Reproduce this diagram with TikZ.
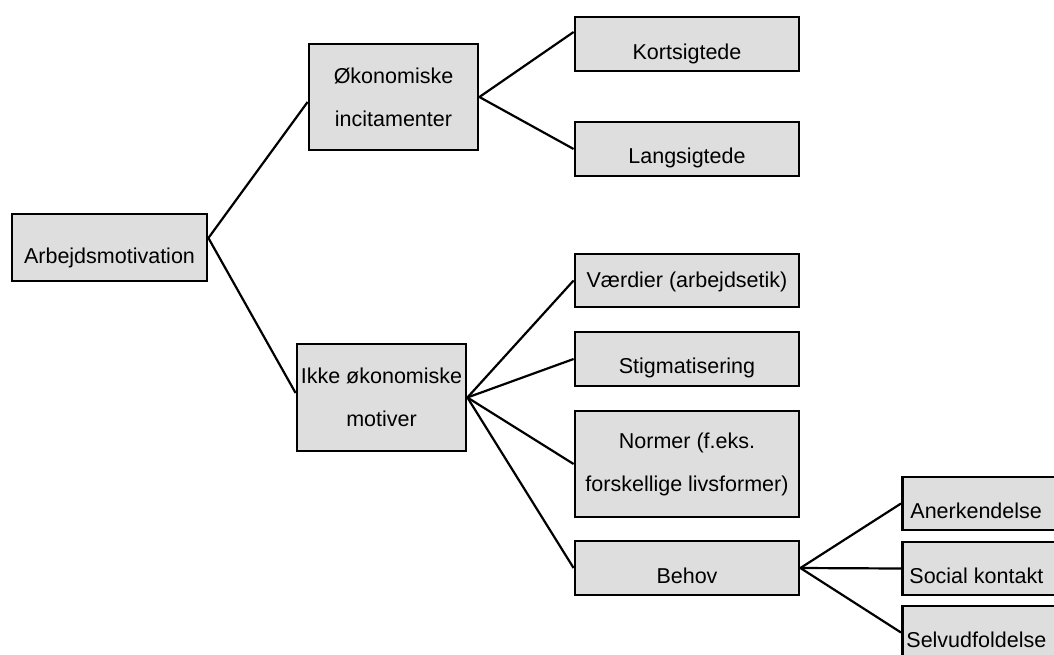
\documentclass[tikz,border=0pt]{standalone}
\usepackage{fontspec}
\setmainfont{Liberation Sans}
\definecolor{boxgray}{RGB}{222,222,222}
\begin{document}
\begin{tikzpicture}[x=1pt,y=-1pt,
  box/.style={draw=black, line width=2.8pt, fill=boxgray, inner sep=0pt,
    font=\fontsize{21.5}{43}\selectfont},
  oneline/.style={text depth=0pt, text height=#1},
  twoline/.style={align=center},
  wide/.style={minimum width=224pt},
  link/.style={line width=2.2pt}]
\path[use as bounding box, clip] (0,0) rectangle (1054,654);

% level 0
\node[box, minimum width=195pt, minimum height=67pt, oneline=31pt] (arb) at (109.5,247.5) {Arbejdsmotivation};

% level 1
\node[box, twoline, minimum width=169pt, minimum height=106pt] (oko) at (393.5,97) {Økonomiske\\incitamenter};
\node[box, twoline, minimum width=169pt, minimum height=107pt] (ikke) at (381.5,397.5) {Ikke økonomiske\\motiver};

% level 2
\node[box, wide, minimum height=54pt, oneline=30pt] (kort) at (687,44) {Kortsigtede};
\node[box, wide, minimum height=54pt, oneline=29pt] (lang) at (687,149) {Langsigtede};
\node[box, wide, minimum height=53pt, oneline=14pt] (vaer) at (687,280.5) {Værdier (arbejdsetik)};
\node[box, wide, minimum height=54pt, oneline=28pt] (stig) at (687,359) {Stigmatisering};
\node[box, wide, twoline, minimum height=106pt] (norm) at (687,464) {Normer (f.eks.\\forskellige livsformer)};
\node[box, wide, minimum height=54pt, oneline=30pt] (behov) at (687,568) {Behov};

% level 3
\node[box, anchor=west, minimum height=53pt, inner xsep=8pt, oneline=29pt] (aner) at (901,503.5) {\makebox[170pt][l]{Anerkendelse}};
\node[box, anchor=west, minimum height=53pt, inner xsep=7pt, oneline=29pt] (soc) at (901,568.5) {\makebox[170pt][l]{Social kontakt}};
\node[box, anchor=west, minimum height=53pt, inner xsep=4pt, oneline=29pt] (selv) at (901,632.5) {\makebox[170pt][l]{Selvudfoldelse}};

% connectors
\draw[link] ([yshift=9.5pt]arb.east) -- ([yshift=-5pt]oko.west);
\draw[link] ([yshift=9.5pt]arb.east) -- ([yshift=4.5pt]ikke.west);
\draw[link] (oko.east) -- ([yshift=12pt]kort.west);
\draw[link] (oko.east) -- (lang.west);
\draw[link] (ikke.east) -- (vaer.west);
\draw[link] (ikke.east) -- (stig.west);
\draw[link] (ikke.east) -- (norm.west);
\draw[link] (ikke.east) -- (behov.west);
\draw[link] (behov.east) -- (aner.west);
\draw[link] (behov.east) -- (soc.west);
\draw[link] (behov.east) -- (selv.west);
\end{tikzpicture}
\end{document}
